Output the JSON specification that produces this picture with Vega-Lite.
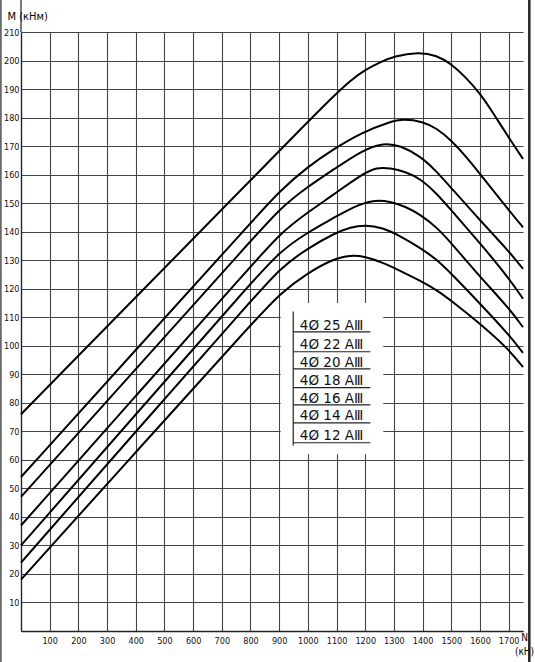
{
  "$schema": "https://vega.github.io/schema/vega-lite/v6.json",
  "width": 502,
  "height": 599,
  "autosize": {"type": "none"},
  "padding": {"left": 21, "top": 32, "right": 12, "bottom": 31},
  "background": "white",
  "config": {"view": {"stroke": null}, "font": "DejaVu Sans Condensed", "axisX": {"labelOverlap": false, "labelSeparation": 0}, "axisY": {"labelOverlap": false, "labelSeparation": 0}},
  "datasets": {
    "curves": [
      {"s": "25", "N": 0, "M": 76}, {"s": "25", "N": 400, "M": 117}, {"s": "25", "N": 800, "M": 158}, {"s": "25", "N": 1000, "M": 178.5}, {"s": "25", "N": 1084, "M": 187}, {"s": "25", "N": 1150, "M": 193.2}, {"s": "25", "N": 1200, "M": 196.8}, {"s": "25", "N": 1253, "M": 199.5}, {"s": "25", "N": 1300, "M": 201.5}, {"s": "25", "N": 1385, "M": 203}, {"s": "25", "N": 1450, "M": 201.8}, {"s": "25", "N": 1500, "M": 198.8}, {"s": "25", "N": 1550, "M": 194.2}, {"s": "25", "N": 1600, "M": 188.5}, {"s": "25", "N": 1650, "M": 181}, {"s": "25", "N": 1700, "M": 173}, {"s": "25", "N": 1750, "M": 165.5},
      {"s": "22", "N": 0, "M": 54}, {"s": "22", "N": 400, "M": 98.5}, {"s": "22", "N": 800, "M": 143}, {"s": "22", "N": 904, "M": 154.5}, {"s": "22", "N": 1000, "M": 162.8}, {"s": "22", "N": 1090, "M": 169}, {"s": "22", "N": 1189, "M": 174.8}, {"s": "22", "N": 1287, "M": 178.6}, {"s": "22", "N": 1334, "M": 179.5}, {"s": "22", "N": 1400, "M": 178.6}, {"s": "22", "N": 1450, "M": 176.2}, {"s": "22", "N": 1500, "M": 172}, {"s": "22", "N": 1550, "M": 166.5}, {"s": "22", "N": 1600, "M": 160.2}, {"s": "22", "N": 1650, "M": 154}, {"s": "22", "N": 1700, "M": 147.6}, {"s": "22", "N": 1750, "M": 141.5},
      {"s": "20", "N": 0, "M": 47}, {"s": "20", "N": 400, "M": 91.8}, {"s": "20", "N": 800, "M": 136.6}, {"s": "20", "N": 904, "M": 148.3}, {"s": "20", "N": 1000, "M": 155.8}, {"s": "20", "N": 1090, "M": 161.8}, {"s": "20", "N": 1189, "M": 168.5}, {"s": "20", "N": 1264, "M": 171.2}, {"s": "20", "N": 1322, "M": 170.2}, {"s": "20", "N": 1392, "M": 166.5}, {"s": "20", "N": 1450, "M": 161}, {"s": "20", "N": 1500, "M": 155.3}, {"s": "20", "N": 1600, "M": 144}, {"s": "20", "N": 1700, "M": 133.2}, {"s": "20", "N": 1750, "M": 127},
      {"s": "18", "N": 0, "M": 37}, {"s": "18", "N": 400, "M": 82.4}, {"s": "18", "N": 800, "M": 127.7}, {"s": "18", "N": 904, "M": 139.5}, {"s": "18", "N": 1000, "M": 146.8}, {"s": "18", "N": 1090, "M": 153}, {"s": "18", "N": 1189, "M": 160.2}, {"s": "18", "N": 1241, "M": 162.6}, {"s": "18", "N": 1287, "M": 162.3}, {"s": "18", "N": 1340, "M": 161}, {"s": "18", "N": 1392, "M": 158.6}, {"s": "18", "N": 1450, "M": 153.3}, {"s": "18", "N": 1500, "M": 147.5}, {"s": "18", "N": 1600, "M": 136}, {"s": "18", "N": 1700, "M": 123.8}, {"s": "18", "N": 1750, "M": 116.5},
      {"s": "16", "N": 0, "M": 30}, {"s": "16", "N": 400, "M": 75.9}, {"s": "16", "N": 800, "M": 121.8}, {"s": "16", "N": 904, "M": 133.2}, {"s": "16", "N": 1000, "M": 139.8}, {"s": "16", "N": 1090, "M": 144.8}, {"s": "16", "N": 1160, "M": 148.8}, {"s": "16", "N": 1229, "M": 151.2}, {"s": "16", "N": 1287, "M": 150.6}, {"s": "16", "N": 1340, "M": 148.8}, {"s": "16", "N": 1392, "M": 146}, {"s": "16", "N": 1450, "M": 141.5}, {"s": "16", "N": 1500, "M": 136}, {"s": "16", "N": 1600, "M": 124.2}, {"s": "16", "N": 1700, "M": 113.3}, {"s": "16", "N": 1750, "M": 106.5},
      {"s": "14", "N": 0, "M": 24}, {"s": "14", "N": 400, "M": 69.9}, {"s": "14", "N": 800, "M": 115.5}, {"s": "14", "N": 904, "M": 127.3}, {"s": "14", "N": 1000, "M": 134.2}, {"s": "14", "N": 1090, "M": 139.3}, {"s": "14", "N": 1150, "M": 141.6}, {"s": "14", "N": 1200, "M": 142.4}, {"s": "14", "N": 1260, "M": 141.4}, {"s": "14", "N": 1322, "M": 138.5}, {"s": "14", "N": 1392, "M": 134.3}, {"s": "14", "N": 1450, "M": 130.2}, {"s": "14", "N": 1500, "M": 125.3}, {"s": "14", "N": 1600, "M": 114.8}, {"s": "14", "N": 1700, "M": 104}, {"s": "14", "N": 1750, "M": 97.5},
      {"s": "12", "N": 0, "M": 18}, {"s": "12", "N": 400, "M": 62.7}, {"s": "12", "N": 800, "M": 107.2}, {"s": "12", "N": 904, "M": 118.5}, {"s": "12", "N": 1000, "M": 125.6}, {"s": "12", "N": 1090, "M": 130.5}, {"s": "12", "N": 1148, "M": 131.8}, {"s": "12", "N": 1200, "M": 131.3}, {"s": "12", "N": 1260, "M": 129.2}, {"s": "12", "N": 1322, "M": 126.3}, {"s": "12", "N": 1392, "M": 122.8}, {"s": "12", "N": 1450, "M": 119.5}, {"s": "12", "N": 1500, "M": 115.8}, {"s": "12", "N": 1600, "M": 107.8}, {"s": "12", "N": 1700, "M": 98.8}, {"s": "12", "N": 1750, "M": 92.5}
    ],
    "labels": [
      {"t": "4Ø 25 AⅢ", "M": 104.9},
      {"t": "4Ø 22 AⅢ", "M": 97.9},
      {"t": "4Ø 20 AⅢ", "M": 91.9},
      {"t": "4Ø 18 AⅢ", "M": 85.3},
      {"t": "4Ø 16 AⅢ", "M": 79.3},
      {"t": "4Ø 14 AⅢ", "M": 73.0},
      {"t": "4Ø 12 AⅢ", "M": 66.0}
    ],
    "box": [{"N1": 905, "N2": 1263, "M1": 62, "M2": 115}],
    "vlines": [
      {"N": 949, "M1": 65, "M2": 112, "w": 1.2},
      {"N": 0, "M1": 210, "M2": 222, "w": 1.2},
      {"N": 1772, "M1": -12, "M2": 232, "w": 2.5},
      {"N": -70, "M1": -12, "M2": 232, "w": 1.2}
    ]
  },
  "layer": [
    {
      "data": {"name": "box"},
      "mark": {"type": "rect", "fill": "white"},
      "encoding": {
        "x": {"field": "N1", "type": "quantitative"},
        "x2": {"field": "N2"},
        "y": {"field": "M1", "type": "quantitative"},
        "y2": {"field": "M2"}
      }
    },
    {
      "data": {"name": "curves"},
      "mark": {"type": "line", "interpolate": "basis", "color": "black", "strokeWidth": 2},
      "encoding": {
        "x": {
          "field": "N", "type": "quantitative",
          "scale": {"domain": [0, 1750], "nice": false, "zero": false},
          "axis": {
            "tickCount": 18, "labelExpr": "datum.value == 0 ? '' : format(datum.value, 'd')",
            "labelOverlap": false,
            "grid": true, "gridColor": "#444", "gridWidth": 1.1,
            "ticks": false, "domainColor": "#222", "domainWidth": 1.3,
            "labelFontSize": 9, "labelPadding": 5, "labelColor": "#111", "labelFlush": false,
            "title": ["N", "(кН)"], "titleFontSize": 10, "titleFontWeight": "normal",
            "titleAlign": "center", "titleBaseline": "top", "titleX": 503, "titleY": 1, "titleLineHeight": 14
          }
        },
        "y": {
          "field": "M", "type": "quantitative",
          "scale": {"domain": [0, 210], "nice": false, "zero": false},
          "axis": {
            "tickCount": 21, "labelExpr": "datum.value == 0 ? '' : format(datum.value, 'd')",
            "labelOverlap": false,
            "grid": true, "gridColor": "#444", "gridWidth": 1.1,
            "ticks": false, "domainColor": "#222", "domainWidth": 1.3,
            "labelFontSize": 9, "labelPadding": 2, "labelColor": "#111", "labelFlush": false,
            "title": "M (кНм)", "titleAngle": 0, "titleFontSize": 11, "titleFontWeight": "normal",
            "titleAlign": "left", "titleBaseline": "middle", "titleX": -14, "titleY": -16
          }
        },
        "detail": {"field": "s"}
      }
    },
    {
      "data": {"name": "labels"},
      "mark": {"type": "rule", "color": "#222", "strokeWidth": 1.2},
      "encoding": {
        "x": {"datum": 949, "type": "quantitative"},
        "x2": {"datum": 1218},
        "y": {"field": "M", "type": "quantitative"}
      }
    },
    {
      "data": {"name": "vlines"},
      "mark": {"type": "rule", "color": "#222"},
      "encoding": {
        "x": {"field": "N", "type": "quantitative"},
        "y": {"field": "M1", "type": "quantitative"},
        "y2": {"field": "M2"},
        "strokeWidth": {"field": "w", "type": "quantitative", "scale": null}
      }
    },
    {
      "data": {"name": "labels"},
      "transform": [{"calculate": "datum.M + 0.8", "as": "My"}],
      "mark": {"type": "text", "align": "left", "baseline": "alphabetic", "fontSize": 13.5, "font": "DejaVu Sans", "color": "#111"},
      "encoding": {
        "x": {"datum": 972, "type": "quantitative"},
        "y": {"field": "My", "type": "quantitative"},
        "text": {"field": "t"}
      }
    }
  ]
}
